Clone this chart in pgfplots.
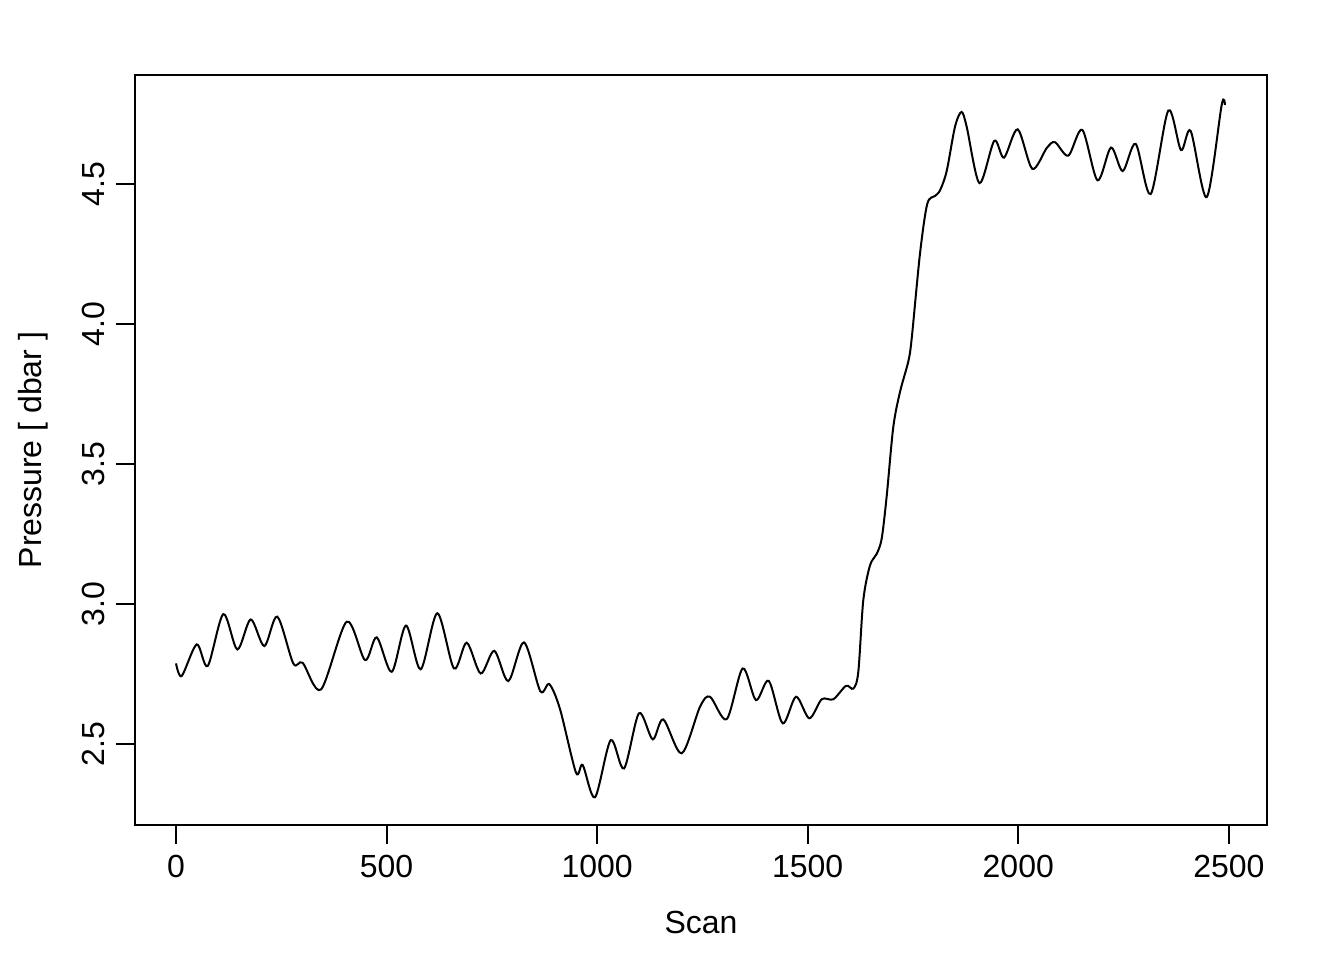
\documentclass[border=0pt,12pt]{standalone}
\usepackage{pgfplots}
\pgfplotsset{compat=1.18}
\usepackage{fontspec}
\setmainfont{Liberation Sans}
\begin{document}
\begin{tikzpicture}
\path[use as bounding box] (-50.625pt,-50.625pt) rectangle (453.375pt,309.375pt);
\begin{axis}[
  at={(0,0)}, anchor=south west,
  scale only axis, width=424.5pt, height=281.25pt,
  xmin=-97.4, xmax=2590.6, ymin=2.211, ymax=4.889,
  xtick={0,500,1000,1500,2000,2500},
  ytick={2.5,3.0,3.5,4.0,4.5},
  tick pos=left, tick align=outside,
  major tick length=7.2pt,
  axis line style={line width=0.75pt},
  every tick/.style={line width=0.75pt, black},
  /pgf/number format/assume math mode=true,
  xticklabel style={/pgf/number format/1000 sep={}},
  yticklabel style={/pgf/number format/fixed, /pgf/number format/fixed zerofill, /pgf/number format/precision=1, rotate=90, anchor=south},
  xlabel={Scan}, ylabel={Pressure [ dbar ]},
  xlabel style={at={(axis description cs:0.5,0)}, anchor=center, yshift=-36.4pt},
  ylabel style={at={(axis description cs:0,0.5)}, anchor=center, yshift=38.25pt},
]
\addplot[black, line width=0.75pt, smooth, tension=0.5] coordinates {
(0,2.788) (13.5,2.743) (49.2,2.856) (75.3,2.779) (112.3,2.964) (145.6,2.838)
(177.4,2.945) (209.7,2.850) (240.5,2.955) (278.5,2.788) (300.8,2.790) (344.3,2.695)
(405.3,2.937) (448.8,2.800) (476.6,2.881) (512.2,2.758) (546.1,2.923) (581.0,2.767)
(620.5,2.967) (660.1,2.770) (690.3,2.862) (723.5,2.752) (755.8,2.833) (789.1,2.725)
(826.3,2.863) (865.0,2.689) (886.4,2.714) (911.8,2.625) (949.8,2.398) (965.7,2.425)
(994.9,2.310) (1032.2,2.514) (1063.8,2.413) (1099.4,2.610) (1131.9,2.517) (1157.1,2.588)
(1200.8,2.467) (1244.2,2.633) (1268.0,2.669) (1307.6,2.589) (1345.6,2.770) (1377.2,2.657)
(1407.4,2.726) (1440.6,2.574) (1472.2,2.669) (1503.8,2.592) (1533.2,2.660) (1560.8,2.660)
(1590.9,2.708) (1608.3,2.698) (1620.1,2.757) (1632.0,3.014) (1647.9,3.138) (1663.8,3.179)
(1675.7,3.234) (1687.6,3.386) (1703.2,3.632) (1719.1,3.757) (1738.8,3.866) (1746.9,3.948)
(1766.6,4.251) (1783.9,4.429) (1802.2,4.457) (1814.1,4.477) (1830.0,4.546) (1849.7,4.704)
(1865.2,4.757) (1877.5,4.704) (1907.9,4.503) (1943.0,4.654) (1966.1,4.594) (1998.6,4.695)
(2033.3,4.554) (2067.5,4.628) (2087.2,4.649) (2118.8,4.601) (2152.0,4.693) (2188.1,4.513)
(2220.2,4.630) (2248.0,4.546) (2278.8,4.643) (2314.4,4.464) (2356.2,4.762) (2386.4,4.621)
(2409.4,4.689) (2447.4,4.453) (2483.0,4.782) (2490.8,4.782)
};
\end{axis}
\end{tikzpicture}
\end{document}
